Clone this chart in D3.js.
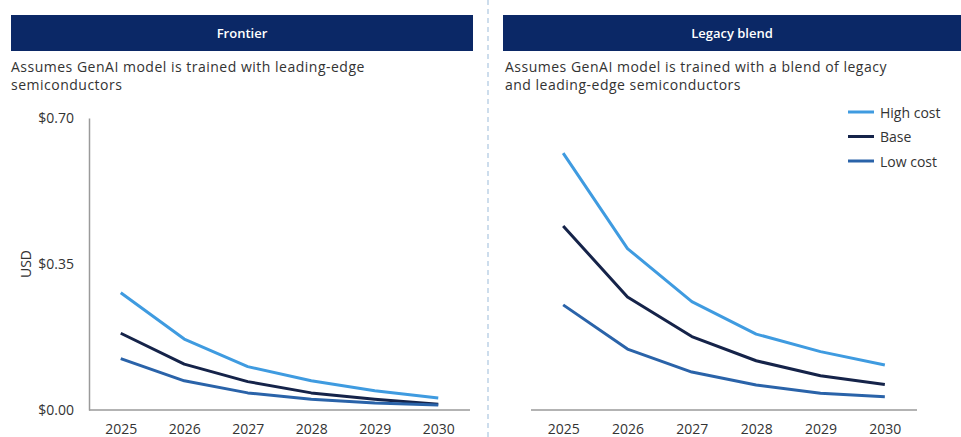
<!DOCTYPE html>
<html>
<head>
<meta charset="utf-8">
<script src="https://cdn.jsdelivr.net/npm/d3@7"></script>
<style>
  html, body { margin: 0; padding: 0; background: #ffffff; }
  svg { display: block; font-family: "Open Sans", "Lato", sans-serif; }
</style>
</head>
<body>
<svg id="chart" width="961" height="437"></svg>
<script>
// Years on the x axis
const years = ["2025", "2026", "2027", "2028", "2029", "2030"];

// Series names and colours
const seriesNames = ["High cost", "Base", "Low cost"];
const seriesColors = ["#3f9be0", "#152349", "#2a63a9"];

// Frontier scenario (USD)
const frontierHigh = [0.281, 0.170, 0.104, 0.070, 0.046, 0.029];
const frontierBase = [0.184, 0.110, 0.068, 0.041, 0.026, 0.014];
const frontierLow  = [0.123, 0.070, 0.041, 0.026, 0.017, 0.012];

// Legacy blend scenario (USD)
const legacyHigh = [0.616, 0.387, 0.260, 0.182, 0.140, 0.108];
const legacyBase = [0.441, 0.271, 0.176, 0.118, 0.082, 0.061];
const legacyLow  = [0.252, 0.146, 0.091, 0.060, 0.040, 0.032];

// Y-axis ticks
const yTicks = [0, 0.35, 0.70];

// Panel titles and notes
const panelTitles = ["Frontier", "Legacy blend"];
const panelNotes = [
  ["Assumes GenAI model is trained with leading-edge", "semiconductors"],
  ["Assumes GenAI model is trained with a blend of legacy", "and leading-edge semiconductors"]
];

const svg = d3.select("#chart");
const navy = "#0b2866";
const textColor = "#333333";
const axisColor = "#9a9a9a";

const y = d3.scaleLinear().domain([0, 0.70]).range([410, 118]);

const panels = [
  { title: panelTitles[0], note: panelNotes[0], hx: 11, hw: 462, nx: 11,
    x0: 89, x1: 470, yAxis: true,
    series: [frontierHigh, frontierBase, frontierLow] },
  { title: panelTitles[1], note: panelNotes[1], hx: 503, hw: 458, nx: 505,
    x0: 531, x1: 917, yAxis: false,
    series: [legacyHigh, legacyBase, legacyLow] }
];

// Dashed divider between the panels
svg.append("line")
  .attr("x1", 488).attr("x2", 488).attr("y1", 0).attr("y2", 437)
  .attr("stroke", "#b3cbe3").attr("stroke-width", 1.3)
  .attr("stroke-dasharray", "5,4");

panels.forEach(p => {
  // Header bar
  svg.append("rect")
    .attr("x", p.hx).attr("y", 15).attr("width", p.hw).attr("height", 36)
    .attr("fill", navy);
  svg.append("text")
    .attr("x", p.hx + p.hw / 2).attr("y", 33)
    .attr("text-anchor", "middle").attr("dominant-baseline", "central")
    .attr("fill", "#ffffff").attr("font-size", 13).attr("font-weight", 600)
    .text(p.title);

  // Note lines
  p.note.forEach((line, i) => {
    svg.append("text")
      .attr("x", p.nx).attr("y", 72 + i * 18)
      .attr("fill", textColor).attr("font-size", 14)
      .attr("letter-spacing", 0.5)
      .text(line);
  });

  const x = d3.scalePoint().domain(years).range([p.x0, p.x1]).padding(0.5);

  // X axis
  const xAxis = svg.append("g")
    .attr("transform", `translate(0,${y(0)})`)
    .call(d3.axisBottom(x).tickSize(0).tickPadding(14));
  xAxis.select(".domain").attr("stroke", axisColor).attr("stroke-width", 1.5)
    .attr("d", `M${p.x0},0H${p.x1}`);
  xAxis.selectAll("text").attr("fill", textColor).attr("font-size", 14)
    .attr("font-family", "'Open Sans', sans-serif");

  // Y axis
  if (p.yAxis) {
    const yAxis = svg.append("g")
      .attr("transform", `translate(${p.x0},0)`)
      .call(d3.axisLeft(y).tickValues(yTicks).tickSize(0).tickPadding(15)
        .tickFormat(d => "$" + d3.format(".2f")(d)));
    yAxis.select(".domain").attr("stroke", axisColor).attr("stroke-width", 1.5);
    yAxis.selectAll("text").attr("fill", textColor).attr("font-size", 14)
      .attr("font-family", "'Open Sans', sans-serif");
    svg.append("text")
      .attr("transform", `translate(25,${y(0.35)}) rotate(-90)`)
      .attr("text-anchor", "middle").attr("dominant-baseline", "central")
      .attr("fill", textColor).attr("font-size", 14)
      .text("USD");
  }

  // Lines
  const line = d3.line()
    .x((d, i) => x(years[i]))
    .y(d => y(d));
  p.series.forEach((vals, si) => {
    svg.append("path")
      .datum(vals)
      .attr("d", line)
      .attr("fill", "none")
      .attr("stroke", seriesColors[si])
      .attr("stroke-width", 3)
      .attr("stroke-linejoin", "round");
  });
});

// Legend
const legend = svg.append("g").attr("transform", "translate(848,112)");
seriesNames.forEach((name, i) => {
  const g = legend.append("g").attr("transform", `translate(0,${i * 24.5})`);
  g.append("line").attr("x1", 0).attr("x2", 26).attr("y1", 0).attr("y2", 0)
    .attr("stroke", seriesColors[i]).attr("stroke-width", 3);
  g.append("text").attr("x", 32).attr("y", 0)
    .attr("dominant-baseline", "central")
    .attr("fill", textColor).attr("font-size", 14)
    .text(name);
});
</script>
</body>
</html>
